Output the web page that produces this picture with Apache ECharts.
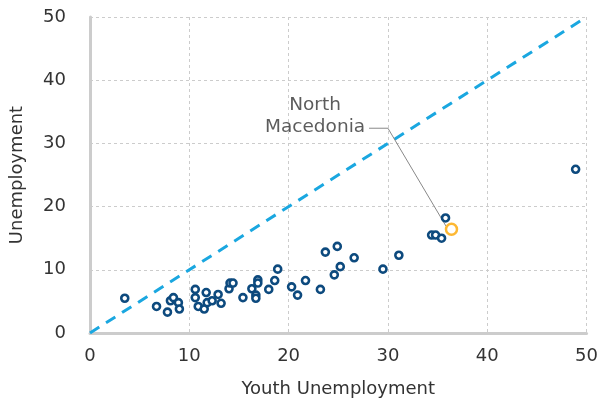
<!DOCTYPE html>
<html><head><meta charset="utf-8">
<script src="https://cdn.jsdelivr.net/npm/echarts@6/dist/echarts.min.js"></script>
<style>html,body{margin:0;padding:0;background:#fff}#c{width:601px;height:403px}</style>
</head><body><div id="c"></div>
<script>
const xTicks = [0, 10, 20, 30, 40, 50];
const yTicks = [0, 10, 20, 30, 40, 50];
const youth = [3.5,6.7,7.8,8.1,8.4,8.9,9.0,10.6,10.6,10.9,11.5,11.7,11.8,12.3,12.9,13.2,14.0,14.1,14.4,15.4,16.3,16.7,16.7,16.9,16.9,18.0,18.6,18.9,20.3,20.9,21.7,23.2,23.7,24.6,24.9,25.2,26.6,29.5,31.1,34.4,34.8,35.4,35.8,48.9];
const unemp = [5.5,4.2,3.3,5.1,5.6,4.8,3.8,6.9,5.6,4.2,3.8,6.4,4.8,5.1,6.1,4.7,7.0,7.9,7.9,5.6,7.0,6.0,5.5,8.4,7.9,6.9,8.3,10.1,7.3,6.0,8.3,6.9,12.8,9.2,13.7,10.5,11.9,10.1,12.3,15.5,15.5,15.0,18.2,25.9];
const highlightName = 'North\nMacedonia';
const highlightX = [36.4];
const highlightY = [16.4];
const refLineX = [0, 50];
const refLineY = [0, 50];
const leaderX = [28.1, 30.0, 35.85];
const leaderY = [32.4, 32.4, 16.9];

const font = 'DejaVu Sans';
const chart = echarts.init(document.getElementById('c'), null, {renderer: 'canvas'});
chart.setOption({
  animation: false,
  grid: {left: 90, right: 11, top: 17, bottom: 70},
  xAxis: {
    type: 'value', min: 0, max: 50, interval: 10,
    name: 'Youth Unemployment', nameLocation: 'middle', nameGap: 47,
    nameTextStyle: {fontFamily: font, fontSize: 18, color: '#333'},
    axisLine: {show: true, lineStyle: {color: '#cccccc', width: 3}},
    axisTick: {show: false},
    axisLabel: {fontFamily: font, fontSize: 18, color: '#333', margin: 14},
    splitLine: {show: true, lineStyle: {color: '#cccccc', type: [3, 3], width: 1}}
  },
  yAxis: {
    type: 'value', min: 0, max: 50, interval: 10,
    name: 'Unemployment', nameLocation: 'middle', nameGap: 64,
    nameTextStyle: {fontFamily: font, fontSize: 18, color: '#333'},
    axisLine: {show: true, lineStyle: {color: '#cccccc', width: 3}},
    axisTick: {show: false},
    axisLabel: {fontFamily: font, fontSize: 18, color: '#333', margin: 24},
    splitLine: {show: true, lineStyle: {color: '#cccccc', type: [3, 3], width: 1}}
  },
  series: [
    {
      type: 'line', data: refLineX.map((x, i) => [x, refLineY[i]]),
      symbol: 'none', silent: true,
      lineStyle: {color: '#1aa7e0', width: 3, type: [11, 8]}, z: 2
    },
    {
      type: 'line', data: leaderX.map((x, i) => [x, leaderY[i]]),
      symbol: 'none', silent: true,
      lineStyle: {color: '#888888', width: 1}, z: 3
    },
    {
      type: 'scatter', data: youth.map((x, i) => [x, unemp[i]]),
      symbol: 'circle', symbolSize: 7,
      itemStyle: {color: '#ffffff', borderColor: '#0d4a7e', borderWidth: 2.6, opacity: 1}, z: 4
    },
    {
      type: 'scatter', data: highlightX.map((x, i) => [x, highlightY[i]]),
      symbol: 'circle', symbolSize: 11,
      itemStyle: {color: '#ffffff', borderColor: '#fdb833', borderWidth: 2.5, opacity: 1}, z: 5
    },
    {
      type: 'scatter', data: [[leaderX[0], leaderY[0]]],
      symbolSize: 0, silent: true,
      label: {show: true, formatter: highlightName, position: 'left', distance: 4,
        fontFamily: font, fontSize: 18.5, color: '#333', lineHeight: 22, align: 'center',
        offset: [-50, -12]},
      z: 6
    }
  ]
});
</script></body></html>
